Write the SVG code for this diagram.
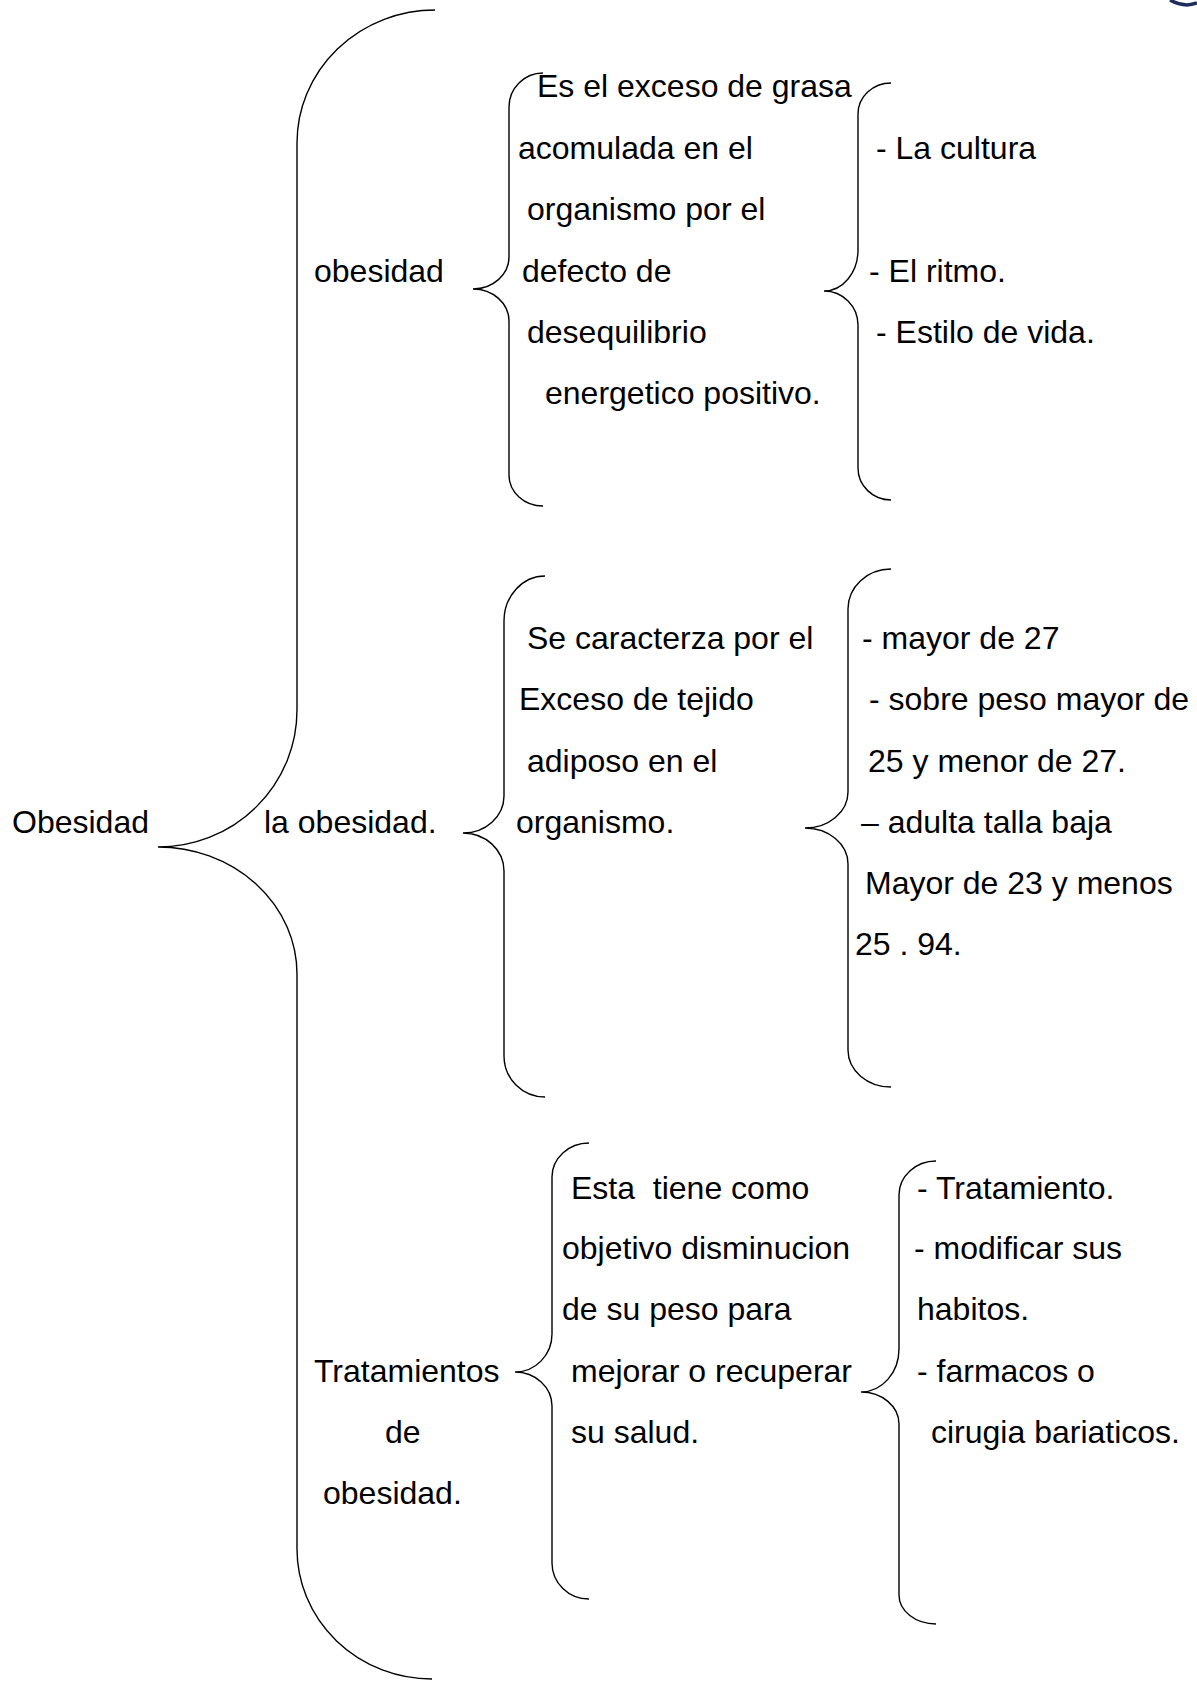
<svg xmlns="http://www.w3.org/2000/svg" width="1197" height="1681" viewBox="0 0 1197 1681">
<style>
text{font-family:"Liberation Sans",Arial,sans-serif;font-size:32px;fill:#000;white-space:pre}
.br{fill:none;stroke:#000;stroke-width:1.4}
</style>
<rect width="1197" height="1681" fill="#fff"/>
<path d="M 1170 0 Q 1184 8 1197 3" fill="none" stroke="#1f2d5c" stroke-width="3.5"/>
<g id="connectors">
<path id="brace-root" class="br" d="M 435 10 A 138 133 0 0 0 297 143 L 297 710 A 139 137 0 0 1 158 847 A 139 127 0 0 1 297 974 L 297 1549 A 135 130 0 0 0 432 1679"/>
<path id="brace-def" class="br" d="M 543 73 A 34 34 0 0 0 509 107 L 509 257 A 36 32 0 0 1 473 289 A 36 32 0 0 1 509 321 L 509 475 A 34 31 0 0 0 543 506"/>
<path id="brace-causes" class="br" d="M 891 83 A 33 31 0 0 0 858 114 L 858 250 A 34 41 0 0 1 824 291 A 34 34 0 0 1 858 325 L 858 468 A 33 32 0 0 0 891 500"/>
<path id="brace-char" class="br" d="M 545 576 A 41 45 0 0 0 504 621 L 504 796 A 41 37 0 0 1 463 833 A 41 38 0 0 1 504 871 L 504 1056 A 41 41 0 0 0 545 1097"/>
<path id="brace-imc" class="br" d="M 891 569 A 43 40 0 0 0 848 609 L 848 792 A 43 36 0 0 1 805 828 A 43 36 0 0 1 848 864 L 848 1050 A 43 37 0 0 0 891 1087"/>
<path id="brace-trat" class="br" d="M 589 1143 A 37 34 0 0 0 552 1177 L 552 1334 A 37 38 0 0 1 515 1372 A 37 34 0 0 1 552 1406 L 552 1563 A 37 36 0 0 0 589 1599"/>
<path id="brace-medidas" class="br" d="M 936 1161 A 37 34 0 0 0 899 1195 L 899 1349 A 38 43 0 0 1 861 1392 A 38 32 0 0 1 899 1424 L 899 1595 A 37 29 0 0 0 936 1624"/>
</g>
<g id="node-root"><text x="12" y="833">Obesidad</text></g>
<g id="node-obesidad"><text x="314" y="282">obesidad</text></g>
<g id="node-la-obesidad"><text x="264" y="833">la obesidad.</text></g>
<g id="node-tratamientos">
<text x="314" y="1382">Tratamientos</text>
<text x="385" y="1443">de</text>
<text x="323" y="1504">obesidad.</text>
</g>
<g id="node-definicion">
<text x="537" y="97">Es el exceso de grasa</text>
<text x="518" y="159">acomulada en el</text>
<text x="527" y="220">organismo por el</text>
<text x="522" y="282">defecto de</text>
<text x="527" y="343">desequilibrio</text>
<text x="545" y="404">energetico positivo.</text>
</g>
<g id="node-causas">
<text x="876" y="159">- La cultura</text>
<text x="869" y="282">- El ritmo.</text>
<text x="876" y="343">- Estilo de vida.</text>
</g>
<g id="node-caracteristica">
<text x="527" y="649">Se caracterza por el</text>
<text x="519" y="710">Exceso de tejido</text>
<text x="527" y="772">adiposo en el</text>
<text x="516" y="833">organismo.</text>
</g>
<g id="node-imc">
<text x="862" y="649">- mayor de 27</text>
<text x="869" y="710">- sobre peso mayor de</text>
<text x="868" y="772">25 y menor de 27.</text>
<text x="861" y="833">– adulta talla baja</text>
<text x="865" y="894">Mayor de 23 y menos</text>
<text x="855" y="955">25 . 94.</text>
</g>
<g id="node-objetivo">
<text x="571" y="1199">Esta  tiene como</text>
<text x="562" y="1259">objetivo disminucion</text>
<text x="562" y="1320">de su peso para</text>
<text x="571" y="1382">mejorar o recuperar</text>
<text x="571" y="1443">su salud.</text>
</g>
<g id="node-medidas">
<text x="917" y="1199">- Tratamiento.</text>
<text x="914" y="1259">- modificar sus</text>
<text x="917" y="1320">habitos.</text>
<text x="917" y="1382">- farmacos o</text>
<text x="931" y="1443">cirugia bariaticos.</text>
</g>
</svg>
